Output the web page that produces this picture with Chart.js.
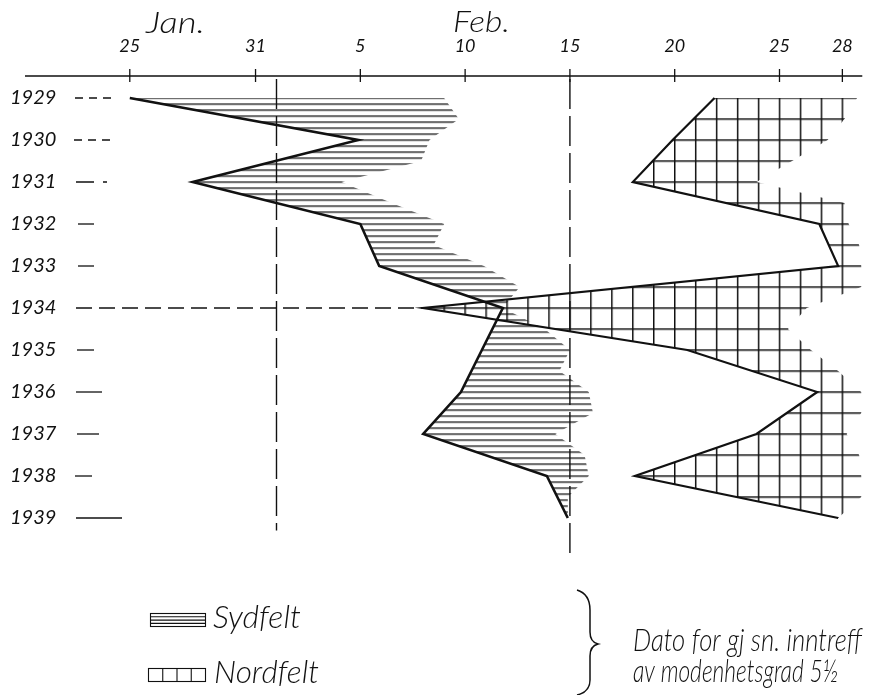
<!DOCTYPE html>
<html>
<head>
<meta charset="utf-8">
<script src="https://cdn.jsdelivr.net/npm/chart.js@4.4.0/dist/chart.umd.min.js"></script>
<style>
  html, body { margin: 0; padding: 0; background: #fff; }
  #wrap { width: 878px; height: 695px; }
</style>
</head>
<body>
<div id="wrap"><canvas id="chart"></canvas></div>
<script>
// days counted from 1 Jan (Feb n = 31 + n)
const years = [1929, 1930, 1931, 1932, 1933, 1934, 1935, 1936, 1937, 1938, 1939];
const sydfelt = [25, 35.9, 28, 36, 36.9, 42.8, 41.8, 40.8, 39.0, 44.9, 45.9];
const nordfelt = [52.9, 50.9, 49.0, 57.9, 58.8, 39.0, 51.6, 57.8, 54.9, 49.1, 58.8];

// ragged right end of the hand drawn hatching, every half year
const edgeYears = [1929, 1929.5, 1930, 1930.5, 1931, 1931.5, 1932, 1932.5, 1933, 1933.5, 1934,
  1934.5, 1935, 1935.5, 1936, 1936.5, 1937, 1937.5, 1938, 1938.5, 1939];
const sydEdge = [40.0, 40.7, 39.3, 38.9, 35.1, 37.5, 40.0, 39.5, 41.9, 43.6, 42.8,
  44.8, 46.0, 45.5, 46.9, 47.1, 45.3, 46.7, 46.9, 45.9, 45.9];
const nordEdge = [59.7, 59.1, 58.3, 56.6, 54.9, 59.1, 59.3, 59.8, 59.9, 59.9, 57.3,
  56.4, 57.5, 58.8, 59.9, 59.9, 59.2, 59.8, 59.9, 59.9, 58.8];

const tickDays = [25, 31, 36, 41, 46, 51, 56, 59];
const tickLabels = ['25', '31', '5', '10', '15', '20', '25', '28'];
const refDays = [32, 46];        // 1 Feb, 15 Feb
const refEnds = [1939.3, 1939.9];

// leader dashes after the year labels: [from, to, dash] (px from plot left)
const leaders = [
  [50, 90, [8, 6]], [49, 85, [8, 6]], [51, 82, [18, 9, 4, 99]], [53, 69, []], [53, 69, []],
  [51, null, [16, 7]], [52, 69, []], [51, 77, []], [52, 74, []], [50, 67, []], [51, 97, []]
];

const ink = '#111';
const lightFont = '"Lato", "Open Sans", "DejaVu Sans"';

function makePattern(w, h, draw) {
  const c = document.createElement('canvas');
  c.width = w; c.height = h;
  const g = c.getContext('2d');
  g.fillStyle = ink;
  draw(g);
  return g.createPattern(c, 'repeat');
}
const hatch = makePattern(8, 42, g => {
  for (let k = 0; k < 7; k++) g.fillRect(0, k * 6, 8, 1.3);
});
const grid = makePattern(21, 21, g => {
  g.fillRect(0, 0, 1.5, 21);
  g.fillRect(0, 0, 21, 1.5);
});

function fitText(ctx, str, x, y, w, font) {
  ctx.font = font;
  const m = ctx.measureText(str).width;
  ctx.save();
  ctx.translate(x, y);
  ctx.scale(w / m, 1);
  ctx.fillText(str, 0, 0);
  ctx.restore();
}

const decor = {
  id: 'decor',
  beforeDatasetsDraw(chart) {
    const {ctx, chartArea: a, scales: {x, y}} = chart;
    const ox = x.getPixelForValue(25), kx = x.getPixelForValue(26) - ox;
    const oy = y.getPixelForValue(1929), ky = (y.getPixelForValue(1930) - oy) / 2;
    grid.setTransform(new DOMMatrix([kx / 21, 0, 0, ky / 21, ox - 0.75, oy - 0.75]));
    hatch.setTransform(new DOMMatrix([1, 0, 0, 2 * ky / 42, 0, Math.round(oy) - 0.6]));

    ctx.save();
    ctx.strokeStyle = ink;
    ctx.lineWidth = 1.4;
    refDays.forEach((d, i) => {
      const px = x.getPixelForValue(d);
      ctx.setLineDash([30, 7]);
      ctx.beginPath();
      ctx.moveTo(px, a.top + 3);
      ctx.lineTo(px, y.getPixelForValue(refEnds[i]));
      ctx.stroke();
    });
    ctx.lineWidth = 1.3;
    leaders.forEach((l, i) => {
      const py = y.getPixelForValue(years[i]);
      const x2 = l[1] === null ? x.getPixelForValue(nordfelt[i]) : a.left + l[1];
      ctx.setLineDash(l[2]);
      ctx.beginPath();
      ctx.moveTo(a.left + l[0], py);
      ctx.lineTo(x2, py);
      ctx.stroke();
    });
    ctx.restore();
  },
  afterDraw(chart) {
    const {ctx, chartArea: a, scales: {x}} = chart;
    ctx.save();
    ctx.strokeStyle = ink;
    ctx.fillStyle = ink;
    ctx.lineWidth = 1.3;
    // top axis with crossing ticks
    ctx.beginPath();
    ctx.moveTo(x.getPixelForValue(20), a.top);
    ctx.lineTo(x.getPixelForValue(59.95), a.top);
    tickDays.forEach(d => {
      const px = x.getPixelForValue(d);
      ctx.moveTo(px, a.top - 7);
      ctx.lineTo(px, a.top + 6);
    });
    ctx.stroke();
    ctx.textAlign = 'left';
    ctx.textBaseline = 'alphabetic';
    fitText(ctx, 'Jan.', 146, 33, 59, 'italic 300 29px ' + lightFont);
    fitText(ctx, 'Feb.', 453, 32, 57, 'italic 300 29px ' + lightFont);

    // legend swatches
    ctx.lineWidth = 1.1;
    ctx.strokeRect(150.5, 613.5, 55, 13);
    ctx.beginPath();
    for (let k = 1; k < 4; k++) { ctx.moveTo(150, 613.5 + k * 3.3); ctx.lineTo(205, 613.5 + k * 3.3); }
    ctx.stroke();
    ctx.strokeRect(148.5, 668.5, 57, 13);
    ctx.beginPath();
    for (let k = 1; k < 4; k++) { ctx.moveTo(148.5 + k * 14.25, 668.5); ctx.lineTo(148.5 + k * 14.25, 681.5); }
    ctx.stroke();

    const ds = chart.data.datasets;
    fitText(ctx, ds[0].label, 213, 628, 88, 'italic 300 32px ' + lightFont);
    fitText(ctx, ds[1].label, 214, 683, 105, 'italic 300 32px ' + lightFont);

    // brace
    ctx.lineWidth = 1.5;
    ctx.beginPath();
    ctx.moveTo(577, 590);
    ctx.quadraticCurveTo(590, 594, 590, 610);
    ctx.lineTo(590, 632);
    ctx.quadraticCurveTo(590, 642, 598, 644);
    ctx.quadraticCurveTo(590, 646, 590, 656);
    ctx.lineTo(590, 680);
    ctx.quadraticCurveTo(590, 692, 577, 695);
    ctx.stroke();

    fitText(ctx, 'Dato for gj sn. inntreff', 633, 651, 229, 'italic 300 31px ' + lightFont);
    fitText(ctx, 'av modenhetsgrad 5½', 633, 682, 205, 'italic 300 31px ' + lightFont);
    ctx.restore();
  }
};

const pts = (ys, xs) => ys.map((yr, i) => ({x: xs[i], y: yr}));

new Chart(document.getElementById('chart'), {
  type: 'line',
  data: {
    datasets: [
      {label: 'Sydfelt', data: pts(years, sydfelt), borderColor: ink, borderWidth: 2.6,
        backgroundColor: hatch, fill: 2, pointRadius: 0, tension: 0},
      {label: 'Nordfelt', data: pts(years, nordfelt), borderColor: ink, borderWidth: 2.2,
        backgroundColor: grid, fill: 3, pointRadius: 0, tension: 0},
      {label: 'sydEdge', data: pts(edgeYears, sydEdge), borderColor: 'transparent', borderWidth: 0,
        pointRadius: 0, fill: false},
      {label: 'nordEdge', data: pts(edgeYears, nordEdge), borderColor: 'transparent', borderWidth: 0,
        pointRadius: 0, fill: false}
    ]
  },
  options: {
    indexAxis: 'y',
    responsive: true,
    maintainAspectRatio: false,
    animation: false,
    layout: {padding: {left: 10, top: 0, right: 0, bottom: 135}},
    plugins: {legend: {display: false}, tooltip: {enabled: false}},
    scales: {
      x: {
        type: 'linear', position: 'top', min: 20, max: 60.7,
        afterBuildTicks: s => { s.ticks = tickDays.map(v => ({value: v})); },
        afterFit: s => { s.height = 76; },
        grid: {display: false, drawTicks: false},
        border: {display: false},
        ticks: {
          autoSkip: false, maxRotation: 0, padding: 19, color: ink,
          font: {family: 'Lato', style: 'italic', weight: 400, size: 18},
          callback: v => tickLabels[tickDays.indexOf(v)] ?? ''
        }
      },
      y: {
        type: 'linear', reverse: true, min: 1928.476, max: 1940,
        afterBuildTicks: s => { s.ticks = years.map(v => ({value: v})); },
        afterFit: s => { s.width = 15; },
        grid: {display: false, drawTicks: false},
        border: {display: false},
        ticks: {
          mirror: true, padding: -15, color: ink,
          font: {family: 'Lato', style: 'italic', weight: 400, size: 20},
          callback: v => String(v)
        }
      }
    }
  },
  plugins: [decor]
});
</script>
</body>
</html>
